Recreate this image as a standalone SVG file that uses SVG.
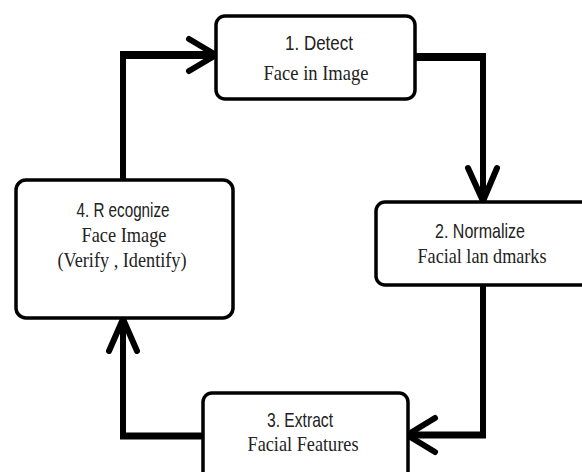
<svg xmlns="http://www.w3.org/2000/svg" width="582" height="472" viewBox="0 0 582 472">
  <style>
    .box { fill: #ffffff; stroke: #000000; stroke-width: 3.5; }
    .t1 { font-family: "Liberation Sans", Arial, sans-serif; font-size: 21px; fill: #222222; text-anchor: middle; }
    .t2 { font-family: "Liberation Serif", "Times New Roman", serif; font-size: 22px; fill: #222222; text-anchor: middle; }
    .line { fill: none; stroke: #000000; stroke-linejoin: miter; stroke-linecap: butt; }
    .head { fill: none; stroke: #000000; stroke-width: 6; stroke-linecap: round; stroke-linejoin: round; }
  </style>
  <rect width="582" height="472" fill="#ffffff"/>

  <g id="connectors">
    <!-- 4 -> 1 -->
    <polyline class="line" stroke-width="6" points="123,180 123,55"/>
    <polyline class="line" stroke-width="8" points="120,55 215,55"/>
    <polyline class="head" points="189,39 216,55 189,71"/>
    <!-- 1 -> 2 -->
    <polyline class="line" stroke-width="8" points="415,57 486,57"/>
    <polyline class="line" stroke-width="6" points="483,54 483,201"/>
    <polyline class="head" points="468,168 483,201 497,168"/>
    <!-- 2 -> 3 -->
    <polyline class="line" stroke-width="6" points="483,285 483,438"/>
    <polyline class="line" stroke-width="7" points="486,435 407,435"/>
    <polyline class="head" points="435,418 407,435 435,452"/>
    <!-- 3 -> 4 -->
    <polyline class="line" stroke-width="7" points="203,436 120,436"/>
    <polyline class="line" stroke-width="6" points="123,439 123,319"/>
    <polyline class="head" points="109,351 123,319 137,351"/>
  </g>

  <g id="node1">
    <rect class="box" x="216" y="16" width="199" height="83" rx="9" stroke-width="3"/>
    <text class="t1" x="319" y="50" textLength="68" lengthAdjust="spacingAndGlyphs">1. Detect</text>
    <text class="t2" x="316" y="80" textLength="105" lengthAdjust="spacingAndGlyphs">Face in Image</text>
  </g>

  <g id="node2">
    <rect class="box" x="376" y="202" width="220" height="83" rx="9" stroke-width="4"/>
    <text class="t1" x="480" y="238" textLength="90" lengthAdjust="spacingAndGlyphs">2. Normalize</text>
    <text class="t2" x="482" y="263" textLength="129" lengthAdjust="spacingAndGlyphs">Facial lan dmarks</text>
  </g>

  <g id="node4">
    <rect class="box" x="16" y="180" width="217" height="138" rx="10" stroke-width="4"/>
    <text class="t1" x="123" y="217" textLength="93" lengthAdjust="spacingAndGlyphs">4. R ecognize</text>
    <text class="t2" x="124" y="242" textLength="85" lengthAdjust="spacingAndGlyphs">Face Image</text>
    <text class="t2" x="122" y="267" textLength="129" lengthAdjust="spacingAndGlyphs">(Verify , Identify)</text>
  </g>

  <g id="node3">
    <rect class="box" x="203" y="393" width="205" height="100" rx="9" stroke-width="3.5"/>
    <text class="t1" x="300" y="427" textLength="66" lengthAdjust="spacingAndGlyphs">3. Extract</text>
    <text class="t2" x="303" y="451" textLength="111" lengthAdjust="spacingAndGlyphs">Facial  Features</text>
  </g>
</svg>
